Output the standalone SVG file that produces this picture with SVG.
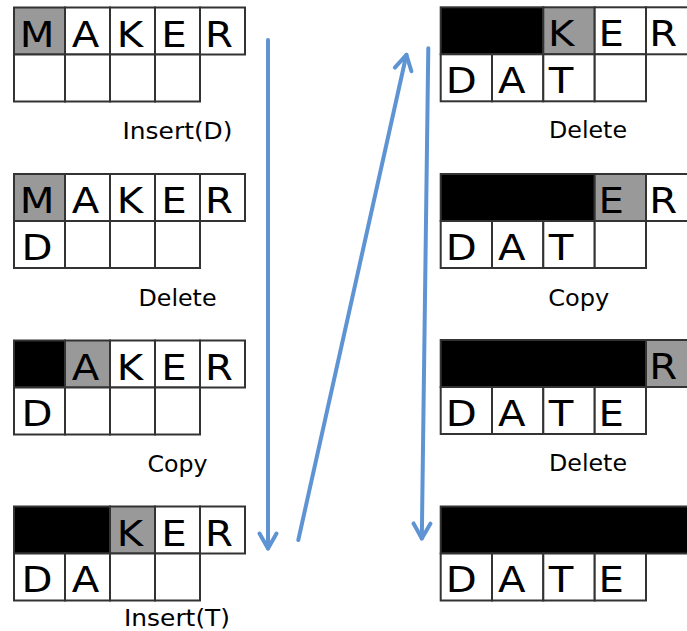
<svg xmlns="http://www.w3.org/2000/svg" width="687" height="631" viewBox="0 0 687 631">
<defs>
<style>
.c{fill:#fff;stroke:#333;stroke-width:2}
.k{fill:#000;stroke:#333;stroke-width:2}
.g{fill:#999;stroke:#333;stroke-width:2}
.t{font-family:"DejaVu Sans",Verdana,sans-serif;font-size:35px;text-anchor:middle;fill:#000}
.lab{font-family:"DejaVu Sans",Verdana,sans-serif;font-size:23px;text-anchor:middle;fill:#000}
.arr{fill:none;stroke:#5e94d4;stroke-width:4;stroke-linecap:round}
</style>
<marker id="ah" markerUnits="userSpaceOnUse" orient="auto" refX="0" refY="0" markerWidth="40" markerHeight="40" viewBox="-20 -20 40 40" overflow="visible">
<path d="M-15,-8.5 L0,0 L-15,8.5" fill="none" stroke="#5e94d4" stroke-width="4" stroke-linecap="round" stroke-linejoin="round"/>
</marker>
</defs>
<rect width="687" height="631" fill="#fff"/>

<g id="panel-L1" transform="translate(14,7.5)">
<rect class="g" x="0" y="0" width="51" height="47"/><rect class="c" x="51" y="0" width="45" height="47"/><rect class="c" x="96" y="0" width="45" height="47"/><rect class="c" x="141" y="0" width="45" height="47"/><rect class="c" x="186" y="0" width="45" height="47"/>
<rect class="c" x="0" y="47" width="51" height="47"/><rect class="c" x="51" y="47" width="45" height="47"/><rect class="c" x="96" y="47" width="45" height="47"/><rect class="c" x="141" y="47" width="45" height="47"/>
<text class="t" transform="translate(23,39) scale(1.15,1)">M</text><text class="t" transform="translate(71.5,39) scale(1.15,1)">A</text><text class="t" transform="translate(116,39) scale(1.15,1)">K</text><text class="t" transform="translate(160,39) scale(1.15,1)">E</text><text class="t" transform="translate(205,39) scale(1.15,1)">R</text>
<text class="lab" x="163.5" y="131" textLength="110" lengthAdjust="spacingAndGlyphs">Insert(D)</text>
</g>

<g id="panel-L2" transform="translate(14,174)">
<rect class="g" x="0" y="0" width="51" height="47"/><rect class="c" x="51" y="0" width="45" height="47"/><rect class="c" x="96" y="0" width="45" height="47"/><rect class="c" x="141" y="0" width="45" height="47"/><rect class="c" x="186" y="0" width="45" height="47"/>
<rect class="c" x="0" y="47" width="51" height="47"/><rect class="c" x="51" y="47" width="45" height="47"/><rect class="c" x="96" y="47" width="45" height="47"/><rect class="c" x="141" y="47" width="45" height="47"/>
<text class="t" transform="translate(23,39) scale(1.15,1)">M</text><text class="t" transform="translate(71.5,39) scale(1.15,1)">A</text><text class="t" transform="translate(116,39) scale(1.15,1)">K</text><text class="t" transform="translate(160,39) scale(1.15,1)">E</text><text class="t" transform="translate(205,39) scale(1.15,1)">R</text>
<text class="t" transform="translate(23,85.5) scale(1.15,1)">D</text>
<text class="lab" x="163.5" y="132" textLength="78" lengthAdjust="spacingAndGlyphs">Delete</text>
</g>

<g id="panel-L3" transform="translate(14,340.5)">
<rect class="k" x="0" y="0" width="51" height="47"/><rect class="g" x="51" y="0" width="45" height="47"/><rect class="c" x="96" y="0" width="45" height="47"/><rect class="c" x="141" y="0" width="45" height="47"/><rect class="c" x="186" y="0" width="45" height="47"/>
<rect class="c" x="0" y="47" width="51" height="47"/><rect class="c" x="51" y="47" width="45" height="47"/><rect class="c" x="96" y="47" width="45" height="47"/><rect class="c" x="141" y="47" width="45" height="47"/>
<text class="t" transform="translate(71.5,39) scale(1.15,1)">A</text><text class="t" transform="translate(116,39) scale(1.15,1)">K</text><text class="t" transform="translate(160,39) scale(1.15,1)">E</text><text class="t" transform="translate(205,39) scale(1.15,1)">R</text>
<text class="t" transform="translate(23,85.5) scale(1.15,1)">D</text>
<text class="lab" x="163.5" y="131" textLength="60" lengthAdjust="spacingAndGlyphs">Copy</text>
</g>

<g id="panel-L4" transform="translate(14,506.5)">
<rect class="k" x="0" y="0" width="96" height="47"/><rect class="g" x="96" y="0" width="45" height="47"/><rect class="c" x="141" y="0" width="45" height="47"/><rect class="c" x="186" y="0" width="45" height="47"/>
<rect class="c" x="0" y="47" width="51" height="47"/><rect class="c" x="51" y="47" width="45" height="47"/><rect class="c" x="96" y="47" width="45" height="47"/><rect class="c" x="141" y="47" width="45" height="47"/>
<text class="t" transform="translate(116,39) scale(1.15,1)">K</text><text class="t" transform="translate(160,39) scale(1.15,1)">E</text><text class="t" transform="translate(205,39) scale(1.15,1)">R</text>
<text class="t" transform="translate(23,85.5) scale(1.15,1)">D</text><text class="t" transform="translate(71.5,85.5) scale(1.15,1)">A</text>
<text class="lab" x="163" y="119.5" textLength="106" lengthAdjust="spacingAndGlyphs">Insert(T)</text>
</g>

<g id="panel-R1" transform="translate(440.7,7.3)">
<rect class="k" x="0" y="0" width="102.6" height="47"/><rect class="g" x="102.6" y="0" width="51.4" height="47"/><rect class="c" x="154" y="0" width="51.3" height="47"/><rect class="c" x="205.3" y="0" width="51.3" height="47"/>
<rect class="c" x="0" y="47" width="51.3" height="47"/><rect class="c" x="51.3" y="47" width="51.3" height="47"/><rect class="c" x="102.6" y="47" width="51.4" height="47"/><rect class="c" x="154" y="47" width="51.3" height="47"/>
<text class="t" transform="translate(120.5,39) scale(1.15,1)">K</text><text class="t" transform="translate(170.5,39) scale(1.15,1)">E</text><text class="t" transform="translate(222.5,39) scale(1.15,1)">R</text>
<text class="t" transform="translate(20.5,85.5) scale(1.15,1)">D</text><text class="t" transform="translate(71,85.5) scale(1.15,1)">A</text><text class="t" transform="translate(120.3,85.5) scale(1.15,1)">T</text>
<text class="lab" x="147.3" y="131" textLength="78" lengthAdjust="spacingAndGlyphs">Delete</text>
</g>

<g id="panel-R2" transform="translate(440.7,174)">
<rect class="k" x="0" y="0" width="154" height="47"/><rect class="g" x="154" y="0" width="51.3" height="47"/><rect class="c" x="205.3" y="0" width="51.3" height="47"/>
<rect class="c" x="0" y="47" width="51.3" height="47"/><rect class="c" x="51.3" y="47" width="51.3" height="47"/><rect class="c" x="102.6" y="47" width="51.4" height="47"/><rect class="c" x="154" y="47" width="51.3" height="47"/>
<text class="t" transform="translate(170.5,39) scale(1.15,1)">E</text><text class="t" transform="translate(222.5,39) scale(1.15,1)">R</text>
<text class="t" transform="translate(20.5,85.5) scale(1.15,1)">D</text><text class="t" transform="translate(71,85.5) scale(1.15,1)">A</text><text class="t" transform="translate(120.3,85.5) scale(1.15,1)">T</text>
<text class="lab" x="138" y="132" textLength="61" lengthAdjust="spacingAndGlyphs">Copy</text>
</g>

<g id="panel-R3" transform="translate(440.7,340)">
<rect class="k" x="0" y="0" width="205.3" height="47"/><rect class="g" x="205.3" y="0" width="51.3" height="47"/>
<rect class="c" x="0" y="47" width="51.3" height="47"/><rect class="c" x="51.3" y="47" width="51.3" height="47"/><rect class="c" x="102.6" y="47" width="51.4" height="47"/><rect class="c" x="154" y="47" width="51.3" height="47"/>
<text class="t" transform="translate(222.5,39) scale(1.15,1)">R</text>
<text class="t" transform="translate(20.5,85.5) scale(1.15,1)">D</text><text class="t" transform="translate(71,85.5) scale(1.15,1)">A</text><text class="t" transform="translate(120.3,85.5) scale(1.15,1)">T</text><text class="t" transform="translate(170.5,85.5) scale(1.15,1)">E</text>
<text class="lab" x="147.3" y="130.5" textLength="78" lengthAdjust="spacingAndGlyphs">Delete</text>
</g>

<g id="panel-R4" transform="translate(440.7,506.5)">
<rect class="k" x="0" y="0" width="256.6" height="47"/>
<rect class="c" x="0" y="47" width="51.3" height="47"/><rect class="c" x="51.3" y="47" width="51.3" height="47"/><rect class="c" x="102.6" y="47" width="51.4" height="47"/><rect class="c" x="154" y="47" width="51.3" height="47"/>
<text class="t" transform="translate(20.5,85.5) scale(1.15,1)">D</text><text class="t" transform="translate(71,85.5) scale(1.15,1)">A</text><text class="t" transform="translate(120.3,85.5) scale(1.15,1)">T</text><text class="t" transform="translate(170.5,85.5) scale(1.15,1)">E</text>
</g>

<g id="connectors">
<line class="arr" x1="268" y1="40" x2="268" y2="548.5" marker-end="url(#ah)"/>
<line class="arr" x1="298.3" y1="540" x2="406.4" y2="54.8" marker-end="url(#ah)"/>
<line class="arr" x1="428.3" y1="48.3" x2="421.8" y2="538.5" marker-end="url(#ah)"/>
</g>
</svg>
